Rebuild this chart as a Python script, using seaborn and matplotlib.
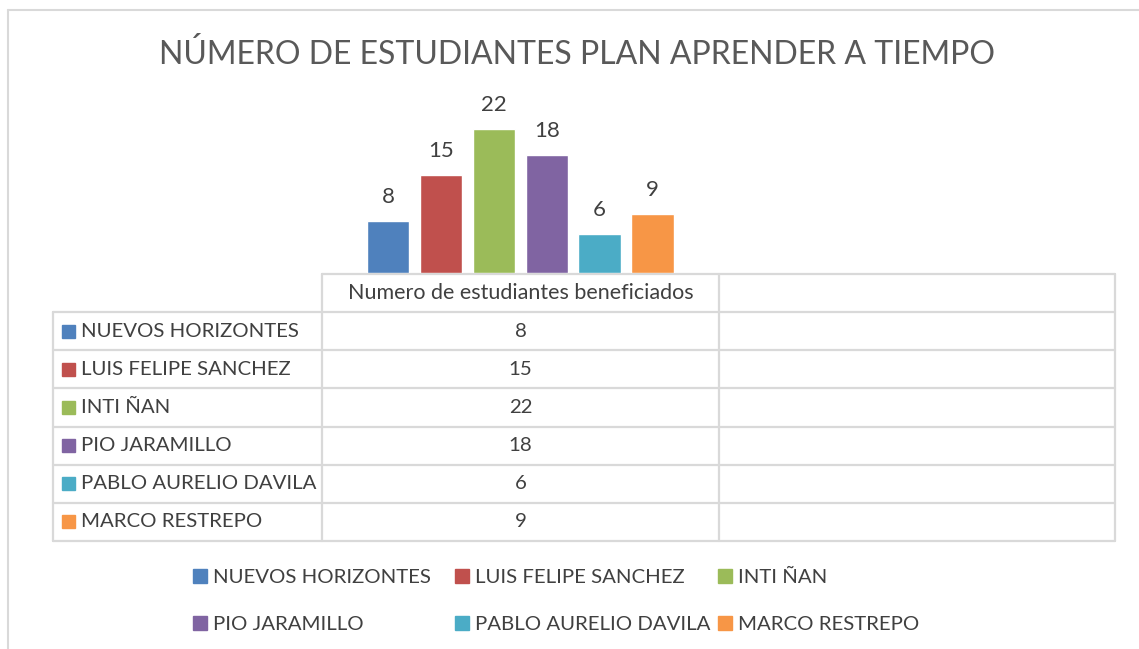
import matplotlib
matplotlib.use("Agg")
import matplotlib.pyplot as plt
import seaborn as sns
import pandas as pd
from matplotlib.patches import Rectangle

# ---- data ----
schools = ["NUEVOS HORIZONTES", "LUIS FELIPE SANCHEZ", "INTI ÑAN",
           "PIO JARAMILLO", "PABLO AURELIO DAVILA", "MARCO RESTREPO"]
students = [8, 15, 22, 18, 6, 9]
series_name = "Numero de estudiantes beneficiados"
title = "NÚMERO DE ESTUDIANTES PLAN APRENDER A TIEMPO"
colors = ["#4F81BD", "#C0504D", "#9BBB59", "#8064A2", "#4BACC6", "#F79646"]

sns.set_theme(style="white")
plt.rcParams["font.family"] = ["Lato", "DejaVu Sans"]

W, H = 1139, 649
fig = plt.figure(figsize=(W / 100, H / 100), dpi=100)
fig.patch.set_facecolor("white")

def fx(x):
    return x / W

def fy(y):
    return 1 - y / H

txt = "#404040"
grid = "#D9D9D9"
fs = 14.7

# overlay axes in pixel coordinates
ov = fig.add_axes([0, 0, 1, 1], zorder=0)
ov.set_xlim(0, W)
ov.set_ylim(H, 0)
ov.axis("off")

# chart border
ov.plot([8, 8], [10, H], color=grid, lw=1.5)
ov.plot([8, W], [10, 10], color=grid, lw=1.5)

ov.text(577, 55, title, ha="center", va="center", fontsize=23, color="#595959")

# bars
df = pd.DataFrame({"cat": [series_name] * len(schools), "school": schools, "n": students})
bx_left, bx_right, bx_bottom, bx_top = 322, 1115, 273, 109
ax = fig.add_axes([fx(bx_left), fy(bx_bottom), fx(bx_right) - fx(bx_left), fy(bx_top) - fy(bx_bottom)], zorder=2)
ax.patch.set_alpha(0)
sns.barplot(data=df, x="cat", y="n", hue="school", hue_order=schools, palette=colors,
            order=[series_name, " "], width=0.8, gap=0.2, ax=ax, legend=False,
            saturation=1, errorbar=None)
ax.set_xlim(-0.5, 1.5)
ax.set_ylim(0, 25)
for c in ax.containers:
    ax.bar_label(c, padding=10, fontsize=16, color=txt)
ax.axis("off")

# data table
top, hdr_bot = 274, 312
row_h = (541 - 312) / 6
x0, x1, x2, x3 = 53, 322, 719, 1115
lw = 1.6
ov.plot([x1, x3], [top, top], color=grid, lw=lw)
ov.plot([x1, x1], [top, 541], color=grid, lw=lw)
ov.plot([x2, x2], [top, 541], color=grid, lw=lw)
ov.plot([x3, x3], [top, 541], color=grid, lw=lw)
ov.plot([x0, x0], [hdr_bot, 541], color=grid, lw=lw)
for i in range(7):
    yy = hdr_bot + i * row_h
    ov.plot([x0, x3], [yy, yy], color=grid, lw=lw)
ov.text((x1 + x2) / 2, (top + hdr_bot) / 2, series_name, ha="center", va="center",
        fontsize=15.5, color=txt)
for i, (s, v, c) in enumerate(zip(schools, students, colors)):
    yc = hdr_bot + (i + 0.5) * row_h
    ov.add_patch(Rectangle((62, yc - 6.5), 13, 13, color=c))
    ov.text(81, yc, s, ha="left", va="center", fontsize=fs, color=txt)
    ov.text((x1 + x2) / 2, yc, str(v), ha="center", va="center", fontsize=fs, color=txt)

# legend: three equal-width columns, filled row-wise
handles = [Rectangle((0, 0), 1, 1, color=c) for c in colors]
col_x = [193, 455, 718]
for j in range(3):
    idx = [j, j + 3]
    leg = fig.legend([handles[i] for i in idx], [schools[i] for i in idx], ncol=1,
                     loc="upper left", bbox_to_anchor=(fx(col_x[j]), fy(569)),
                     frameon=False, fontsize=fs, handlelength=0.68, handleheight=0.68,
                     handletextpad=0.3, labelspacing=1.45, borderpad=0,
                     borderaxespad=0, labelcolor=txt)

fig.savefig("out.png", dpi=100, facecolor="white")
